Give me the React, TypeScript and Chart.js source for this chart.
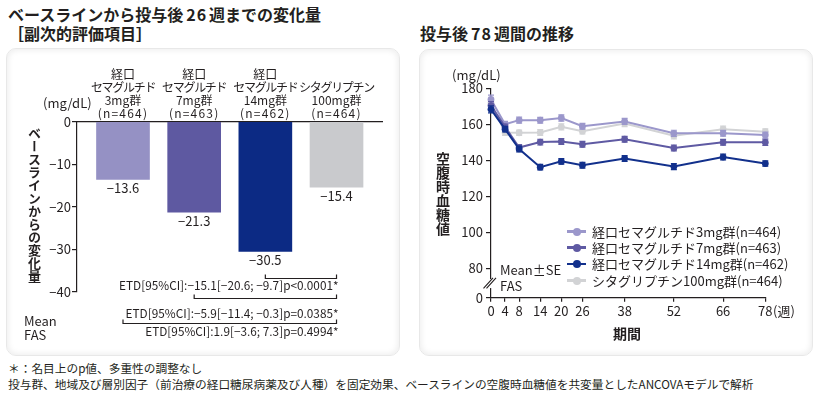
import React, { useEffect, useRef, useState } from "react";
import { Chart, registerables } from "chart.js";

Chart.register(...registerables);

const FONT = '"Noto Sans CJK JP", "Noto Sans", sans-serif';
const INK = "#231f20";

// ---------- Left chart data ----------
const barCategories = [
  ["経口", "セマグルチド", "3mg群", "(n=464)"],
  ["経口", "セマグルチド", "7mg群", "(n=463)"],
  ["経口", "セマグルチド", "14mg群", "(n=462)"],
  ["シタグリプチン", "100mg群", "(n=464)"],
];
const barValues = [-13.6, -21.3, -30.5, -15.4];
const barColors = ["#9591c4", "#5e59a1", "#0c2a84", "#c9cacd"];
const barTickValues = [0, -10, -20, -30, -40];
const etdTexts = [
  "ETD[95%CI]:−15.1[−20.6; −9.7]p<0.0001*",
  "ETD[95%CI]:−5.9[−11.4; −0.3]p=0.0385*",
  "ETD[95%CI]:1.9[−3.6; 7.3]p=0.4994*",
];
const etdCompared = [2, 1, 0];
const etdReference = 3;

// ---------- Right chart data ----------
const weeks = [0, 4, 8, 14, 20, 26, 38, 52, 66, 78];
const fpgTickValues = [80, 100, 120, 140, 160, 180];
const seriesNames = [
  "経口セマグルチド3mg群(n=464)",
  "経口セマグルチド7mg群(n=463)",
  "経口セマグルチド14mg群(n=462)",
  "シタグリプチン100mg群(n=464)",
];
const seriesColors = ["#9b97cb", "#5f5aa3", "#12308c", "#d2d3d5"];
const fpg3mg = [173.8, 160.0, 162.3, 162.3, 163.5, 158.9, 161.6, 155.0, 155.0, 154.0];
const fpg7mg = [170.4, 158.6, 147.1, 150.1, 150.4, 148.9, 151.7, 146.8, 150.0, 150.0];
const fpg14mg = [168.3, 157.3, 146.3, 136.2, 139.4, 137.3, 141.0, 136.5, 141.8, 138.2];
const fpgSita = [171.8, 155.4, 155.3, 155.5, 158.6, 156.2, 160.4, 153.6, 157.3, 155.9];
const se3mg = [2.4, 1.6, 1.7, 1.6, 1.7, 1.6, 1.7, 1.7, 1.6, 1.7];
const se7mg = [2.2, 1.5, 1.6, 1.6, 1.6, 1.6, 1.6, 1.6, 1.6, 1.7];
const se14mg = [2.0, 1.5, 1.6, 1.5, 1.5, 1.6, 1.6, 1.7, 1.6, 1.5];
const seSita = [2.3, 1.6, 1.5, 1.6, 1.7, 1.6, 1.7, 1.7, 1.7, 1.6];
const seriesValues = [fpg3mg, fpg7mg, fpg14mg, fpgSita];
const seriesSE = [se3mg, se7mg, se14mg, seSita];
const seriesOrder = [2, 1, 0, 3];
const breakValue = 71.8;

const fmt = (v: number) => (v < 0 ? "−" + Math.abs(v).toFixed(1) : v.toFixed(1));

function Txt(props: any) {
  const { x, y, size = 13, bold = false, h = 16, children, style } = props;
  return (
    <div
      style={{
        position: "absolute",
        left: x,
        top: y - h / 2,
        height: h,
        lineHeight: h + "px",
        fontSize: size,
        fontWeight: bold ? 700 : 400,
        whiteSpace: "nowrap",
        color: INK,
        fontFamily: FONT,
        ...style,
      }}
    >
      {children}
    </div>
  );
}

const Num = ({ children }: any) => (
  <span style={{ letterSpacing: 1, margin: "0 2px 0 3px" }}>{children}</span>
);

const panelStyle = (left: number, top: number, w: number, h: number): any => ({
  position: "absolute",
  left,
  top,
  width: w,
  height: h,
  background: "#fff",
  borderRadius: 10,
  boxSizing: "border-box",
  border: "1px solid #e8e8e8",
  boxShadow: "inset 0 0 6px 1px rgba(0,0,0,0.08)",
});

const LEFT_X = 6;
const LEFT_Y = 48;

const lineSpacing = (l: string) => (/[ァ-ヶー]/.test(l) ? -1.3 : l.startsWith("(") ? 1.2 : 0);

function BarChart() {
  const ref = useRef<HTMLCanvasElement>(null);
  const [geo, setGeo] = useState<{ xs: number[]; top: number } | null>(null);
  useEffect(() => {
    const plugin = {
      id: "barExtras",
      afterDatasetsDraw(chart: any) {
        const { ctx } = chart;
        const meta = chart.getDatasetMeta(0);
        const ys = chart.scales.y;
        ctx.save();
        ctx.fillStyle = INK;
        ctx.font = `13px ${FONT}`;
        ctx.textAlign = "center";
        ctx.textBaseline = "middle";
        meta.data.forEach((bar: any, i: number) => {
          ctx.fillText(fmt(barValues[i]), bar.x, bar.y + 9);
        });
        const base = ys.getPixelForValue(-40);
        const lineOffsets = [-13.5, 6.5, 31.5];
        const textOffsets = [-6, 22, 40];
        ctx.strokeStyle = INK;
        ctx.lineWidth = 1.2;
        ctx.font = `11.8px ${FONT}`;
        ctx.textAlign = "right";
        etdTexts.forEach((t, k) => {
          const x1 = meta.data[etdCompared[k]].x;
          const x2 = meta.data[etdReference].x;
          const yl = Math.round(base + lineOffsets[k]) + 0.5;
          ctx.beginPath();
          ctx.moveTo(x1, yl - 4);
          ctx.lineTo(x1, yl);
          ctx.lineTo(x2, yl);
          ctx.lineTo(x2, yl - 4);
          ctx.stroke();
          ctx.fillText(t, x2 + 2, base + textOffsets[k]);
        });
        ctx.restore();
      },
    };
    const chart = new Chart(ref.current!, {
      type: "bar",
      data: {
        datasets: [
          {
            data: barValues.map((v, i) => ({ x: i + 1, y: v })),
            backgroundColor: barColors,
            barThickness: 53,
          },
        ],
      },
      options: {
        animation: false,
        responsive: false,
        layout: { padding: { left: 0, right: 18, top: 0, bottom: 64.3 } },
        plugins: { legend: { display: false }, tooltip: { enabled: false } },
        scales: {
          x: {
            type: "linear",
            position: "top",
            offset: false,
            min: 0.3537,
            max: 4.639,
            grid: { display: false, drawTicks: false, offset: false },
            border: { display: true, color: INK, width: 1.2 },
            afterBuildTicks: (s: any) => {
              s.ticks = barCategories.map((_, i) => ({ value: i + 1 }));
            },
            afterFit: (s: any) => {
              s.height = 73.7;
            },
            ticks: { display: false },
          },
          y: {
            min: -40,
            max: 0,
            grid: { drawOnChartArea: false, drawTicks: true, tickLength: 5, color: INK, lineWidth: 1.2 },
            border: { display: true, color: INK, width: 1.2 },
            afterBuildTicks: (s: any) => {
              s.ticks = barTickValues.map((v) => ({ value: v }));
            },
            afterFit: (s: any) => {
              s.width = 71;
            },
            ticks: {
              padding: 1,
              color: INK,
              font: { family: FONT, size: 13 },
              callback: (v: any) => (v === 0 ? "0" : "−" + Math.abs(v)),
            },
          },
        },
      } as any,
      plugins: [plugin],
    });
    setGeo({
      xs: chart.getDatasetMeta(0).data.map((b: any) => b.x),
      top: chart.chartArea.top,
    });
    return () => chart.destroy();
  }, []);
  return (
    <>
      <canvas
        ref={ref}
        width={394}
        height={308}
        style={{ position: "absolute", left: LEFT_X, top: LEFT_Y, width: 394, height: 308 }}
      />
      {geo &&
        barCategories.map((lines, i) => (
          <div
            key={i}
            style={{
              position: "absolute",
              left: LEFT_X + geo.xs[i] - 45,
              width: 90,
              top: LEFT_Y + geo.top - 2.5 - lines.length * 13,
              textAlign: "center",
              fontFamily: FONT,
              fontSize: 12,
              lineHeight: "13px",
              color: INK,
              whiteSpace: "nowrap",
            }}
          >
            {lines.map((l, j) => (
              <div key={j} style={{ letterSpacing: lineSpacing(l) }}>
                {l}
              </div>
            ))}
          </div>
        ))}
    </>
  );
}

function LineChart() {
  const ref = useRef<HTMLCanvasElement>(null);
  useEffect(() => {
    const yMin = 63.67;
    const plugin = {
      id: "errorBars",
      afterDatasetDraw(chart: any, args: any) {
        const { ctx } = chart;
        const k = args.index;
        const ys = chart.scales.y;
        const vals = seriesValues[k];
        const se = seriesSE[k];
        ctx.save();
        ctx.strokeStyle = seriesColors[k];
        ctx.lineWidth = 1.2;
        args.meta.data.forEach((pt: any, i: number) => {
          const t = ys.getPixelForValue(vals[i] + se[i]);
          const b = ys.getPixelForValue(vals[i] - se[i]);
          ctx.beginPath();
          ctx.moveTo(pt.x, t);
          ctx.lineTo(pt.x, b);
          ctx.moveTo(pt.x - 3, t);
          ctx.lineTo(pt.x + 3, t);
          ctx.moveTo(pt.x - 3, b);
          ctx.lineTo(pt.x + 3, b);
          ctx.stroke();
        });
        ctx.restore();
      },
      afterDraw(chart: any) {
        const { ctx, chartArea } = chart;
        const ys = chart.scales.y;
        const py = ys.getPixelForValue(breakValue);
        const ax = chartArea.left;
        ctx.save();
        ctx.fillStyle = "#fff";
        ctx.fillRect(ax - 2, py - 4, 4, 9);
        ctx.strokeStyle = INK;
        ctx.lineWidth = 1.1;
        ctx.beginPath();
        ctx.moveTo(ax - 7.5, py + 5.3);
        ctx.lineTo(ax + 2, py - 5.3);
        ctx.moveTo(ax - 4.5, py + 5.3);
        ctx.lineTo(ax + 5, py - 5.3);
        ctx.stroke();
        ctx.restore();
      },
    };
    const chart = new Chart(ref.current!, {
      type: "line",
      data: {
        datasets: seriesValues.map((vals, k) => ({
          label: seriesNames[k],
          data: weeks.map((w, i) => ({ x: w, y: vals[i] })),
          borderColor: seriesColors[k],
          backgroundColor: seriesColors[k],
          pointBackgroundColor: seriesColors[k],
          pointBorderWidth: 0,
          pointRadius: 3.4,
          borderWidth: 2,
          order: seriesOrder[k],
          clip: false,
        })),
      },
      options: {
        animation: false,
        responsive: false,
        layout: { padding: { left: 0, right: 47.7, top: 39.3, bottom: 28.3 } },
        plugins: { legend: { display: false }, tooltip: { enabled: false } },
        scales: {
          x: {
            type: "linear",
            min: 0,
            max: 78,
            grid: { drawOnChartArea: false, drawTicks: true, tickLength: 4, color: INK, lineWidth: 1.2 },
            border: { display: true, color: INK, width: 1.2 },
            afterBuildTicks: (s: any) => {
              s.ticks = weeks.map((w) => ({ value: w }));
            },
            afterFit: (s: any) => {
              s.height = 30;
            },
            ticks: {
              autoSkip: false,
              maxRotation: 0,
              padding: 2.5,
              color: INK,
              font: { family: FONT, size: 13, lineHeight: "13px" },
              callback: (v: any) => String(v),
            },
          },
          y: {
            min: yMin,
            max: 180,
            grid: { drawOnChartArea: false, drawTicks: true, tickLength: 5, color: INK, lineWidth: 1.2 },
            border: { display: true, color: INK, width: 1.2 },
            afterBuildTicks: (s: any) => {
              s.ticks = [{ value: yMin }, ...fpgTickValues.map((v) => ({ value: v }))];
            },
            afterFit: (s: any) => {
              s.width = 72;
            },
            ticks: {
              padding: 3,
              color: INK,
              font: { family: FONT, size: 13 },
              callback: (v: any) => (v < 79 ? "0" : String(v)),
            },
          },
        },
      } as any,
      plugins: [plugin],
    });
    return () => chart.destroy();
  }, []);
  return (
    <canvas
      ref={ref}
      width={394}
      height={307}
      style={{ position: "absolute", left: 419, top: 49, width: 394, height: 307 }}
    />
  );
}

function Legend() {
  const rows = [231.7, 247.7, 264, 280.7];
  return (
    <>
      {seriesNames.map((n, k) => (
        <React.Fragment key={n}>
          <div style={{ position: "absolute", left: 567, top: rows[k] - 4, width: 19, height: 8 }}>
            <div
              style={{ position: "absolute", left: 0, top: 2.75, width: 19, height: 2.5, background: seriesColors[k] }}
            />
            <div
              style={{
                position: "absolute",
                left: 5.5,
                top: 0,
                width: 8,
                height: 8,
                borderRadius: 4,
                background: seriesColors[k],
              }}
            />
          </div>
          <Txt x={592} y={rows[k]} size={13}>
            {n}
          </Txt>
        </React.Fragment>
      ))}
    </>
  );
}

export default function App() {
  return (
    <div
      style={{
        position: "absolute",
        left: 0,
        top: 0,
        width: 824,
        height: 397,
        background: "#fff",
        fontFamily: FONT,
        color: INK,
        overflow: "hidden",
      }}
    >
      <Txt x={8} y={13.7} size={16} bold h={20}>
        ベースラインから投与後<Num>26</Num>週までの変化量
      </Txt>
      <Txt x={8} y={33.3} size={16} bold h={20}>
        ［副次的評価項目］
      </Txt>
      <Txt x={420} y={33.3} size={16} bold h={20}>
        投与後<Num>78</Num>週間の推移
      </Txt>

      <div style={panelStyle(6, 48, 394, 308)} />
      <div style={panelStyle(419, 49, 394, 307)} />

      <BarChart />
      <LineChart />

      {/* left panel texts */}
      <Txt x={43} y={103.3} size={13}>
        (mg/dL)
      </Txt>
      <div
        style={{
          position: "absolute",
          left: 26,
          top: 127,
          width: 16,
          writingMode: "vertical-rl",
          textOrientation: "upright",
          fontSize: 13,
          fontWeight: 700,
          lineHeight: "16px",
          fontFamily: FONT,
          color: INK,
          whiteSpace: "nowrap",
        }}
      >
        ベースラインからの変化量
      </div>
      <Txt x={24} y={321} size={13}>
        Mean
      </Txt>
      <Txt x={24} y={334.6} size={13}>
        FAS
      </Txt>

      {/* right panel texts */}
      <Txt x={452} y={75} size={13}>
        (mg/dL)
      </Txt>
      <div
        style={{
          position: "absolute",
          left: 435,
          top: 152,
          width: 16,
          writingMode: "vertical-rl",
          textOrientation: "upright",
          fontSize: 14,
          fontWeight: 700,
          lineHeight: "16px",
          fontFamily: FONT,
          color: INK,
          whiteSpace: "nowrap",
        }}
      >
        空腹時血糖値
      </div>
      <Txt x={500} y={270} size={13}>
        Mean±SE
      </Txt>
      <Txt x={500} y={285.5} size={13}>
        FAS
      </Txt>
      <Txt x={773} y={310.7} size={13}>
        (週)
      </Txt>
      <Txt x={613} y={333} size={14} bold>
        期間
      </Txt>
      <Legend />

      <Txt x={8} y={368.3} size={11.7}>
        ＊：名目上のp値、多重性の調整なし
      </Txt>
      <Txt x={8} y={383.8} size={11.7}>
        投与群、地域及び層別因子（前治療の経口糖尿病薬及び人種）を固定効果、ベースラインの空腹時血糖値を共変量としたANCOVAモデルで解析
      </Txt>
    </div>
  );
}
